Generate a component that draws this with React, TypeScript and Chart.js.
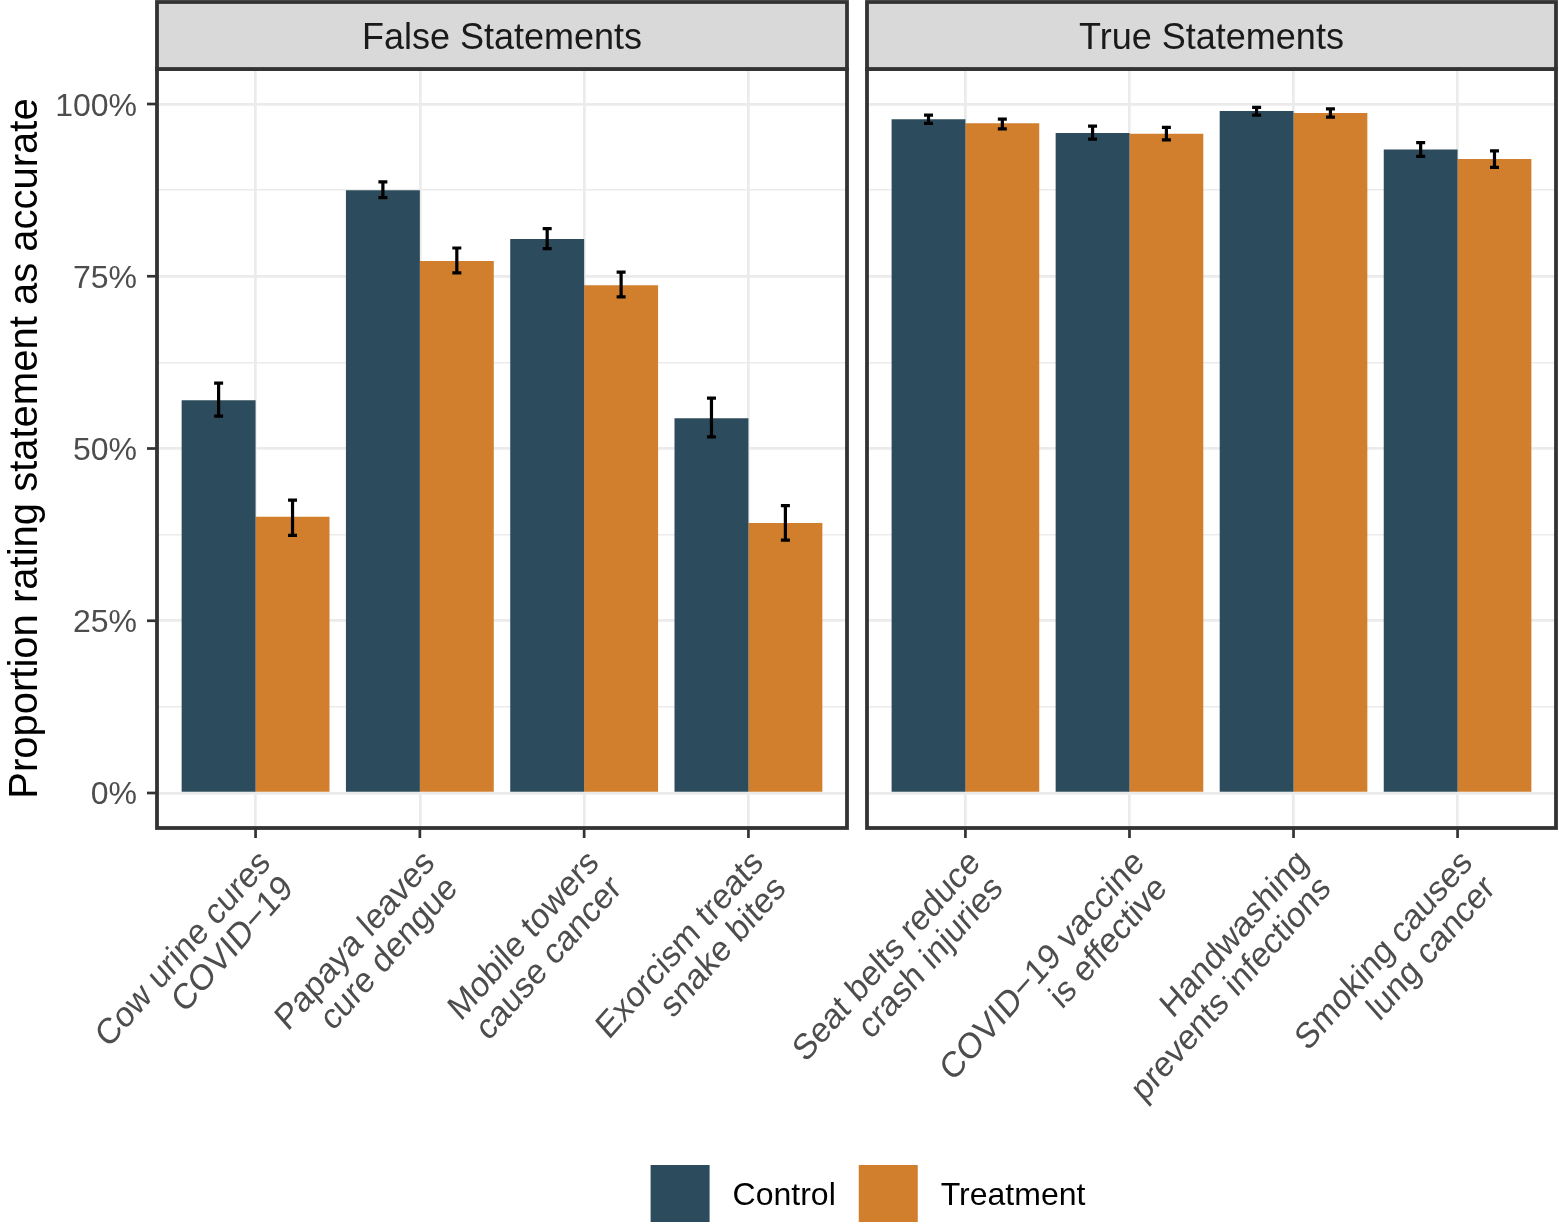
import React, { useEffect, useRef } from "react";
import { Chart, registerables } from "chart.js";

Chart.register(...registerables);

// ---------- DATA ----------
const facetTitles = ["False Statements", "True Statements"];
const seriesNames = ["Control", "Treatment"];
const falseCategories = [
  ["Cow urine cures", "COVID\u221219"],
  ["Papaya leaves", "cure dengue"],
  ["Mobile towers", "cause cancer"],
  ["Exorcism treats", "snake bites"],
];
const trueCategories = [
  ["Seat belts reduce", "crash injuries"],
  ["COVID\u221219 vaccine", "is effective"],
  ["Handwashing", "prevents infections"],
  ["Smoking causes", "lung cancer"],
];
const falseControl = [57.0, 87.5, 80.4, 54.4];
const falseControlLow = [54.7, 86.4, 79.0, 51.7];
const falseControlHigh = [59.5, 88.7, 81.9, 57.3];
const falseTreatment = [40.1, 77.2, 73.7, 39.2];
const falseTreatmentLow = [37.4, 75.5, 72.0, 36.7];
const falseTreatmentHigh = [42.5, 79.1, 75.6, 41.7];
const trueControl = [97.8, 95.8, 99.0, 93.4];
const trueControlLow = [97.2, 94.9, 98.4, 92.4];
const trueControlHigh = [98.4, 96.8, 99.5, 94.4];
const trueTreatment = [97.2, 95.7, 98.7, 92.0];
const trueTreatmentLow = [96.4, 94.8, 98.1, 90.8];
const trueTreatmentHigh = [97.8, 96.6, 99.3, 93.2];
const yTickValues = [0, 25, 50, 75, 100];
const yMinorValues = [12.5, 37.5, 62.5, 87.5];
const yAxisTitle = "Proportion rating statement as accurate";

// ---------- STYLE ----------
const FONT = '"Liberation Sans", Arial, Helvetica, sans-serif';
const W = 1559;
const H = 1227;
const COLORS = ["#2C4B5D", "#D17F2D"];
const DARK = "#333333";
const GRID = "#EBEBEB";
const PANEL_TOP = 69;
const PANEL_BOTTOM = 828;
const STRIP_TOP = 2;
const LABEL_STRETCH = 1.13;

type PanelCfg = {
  title: string;
  categories: string[][];
  lows: number[][];
  highs: number[][];
  showY: boolean;
  showLegend: boolean;
};

function makePlugin(cfg: PanelCfg) {
  return {
    id: "facetPanel",
    afterDatasetsDraw(chart: any) {
      const ctx = chart.ctx;
      const ys = chart.scales.y;
      ctx.save();
      ctx.strokeStyle = "#000000";
      ctx.lineWidth = 3.2;
      ctx.lineCap = "butt";
      cfg.lows.forEach((lowArr, di) => {
        const meta = chart.getDatasetMeta(di);
        meta.data.forEach((bar: any, i: number) => {
          const x = bar.x;
          const yl = ys.getPixelForValue(lowArr[i]);
          const yh = ys.getPixelForValue(cfg.highs[di][i]);
          ctx.beginPath();
          ctx.moveTo(x, yl);
          ctx.lineTo(x, yh);
          ctx.moveTo(x - 4.5, yl);
          ctx.lineTo(x + 4.5, yl);
          ctx.moveTo(x - 4.5, yh);
          ctx.lineTo(x + 4.5, yh);
          ctx.stroke();
        });
      });
      ctx.restore();
    },
    afterDraw(chart: any) {
      const ctx = chart.ctx;
      const a = chart.chartArea;
      const xs = chart.scales.x;
      const ys = chart.scales.y;
      ctx.save();
      // panel border
      ctx.strokeStyle = DARK;
      ctx.lineWidth = 3.8;
      ctx.strokeRect(a.left, a.top, a.right - a.left, a.bottom - a.top);
      // strip
      ctx.fillStyle = "#D9D9D9";
      ctx.fillRect(a.left, STRIP_TOP, a.right - a.left, a.top - STRIP_TOP);
      ctx.strokeRect(a.left, STRIP_TOP, a.right - a.left, a.top - STRIP_TOP);
      ctx.fillStyle = "#1A1A1A";
      ctx.font = `36px ${FONT}`;
      ctx.textAlign = "center";
      ctx.textBaseline = "alphabetic";
      ctx.fillText(cfg.title, (a.left + a.right) / 2, (STRIP_TOP + a.top) / 2 + 13);

      // x ticks + labels
      ctx.lineWidth = 2.7;
      ctx.strokeStyle = DARK;
      ctx.fillStyle = "#4D4D4D";
      ctx.font = `32px ${FONT}`;
      cfg.categories.forEach((lines, i) => {
        const x = xs.getPixelForValue(i);
        ctx.beginPath();
        ctx.moveTo(x, a.bottom);
        ctx.lineTo(x, a.bottom + 10);
        ctx.stroke();
        ctx.save();
        ctx.translate(x, a.bottom + 18);
        ctx.scale(1, LABEL_STRETCH);
        ctx.rotate(-Math.PI / 4);
        ctx.textAlign = "right";
        ctx.textBaseline = "alphabetic";
        lines.forEach((ln, li) => {
          ctx.fillText(ln, 0, 23 + li * 32);
        });
        ctx.restore();
      });

      if (cfg.showY) {
        ctx.textAlign = "right";
        ctx.textBaseline = "alphabetic";
        yTickValues.forEach((v) => {
          const y = ys.getPixelForValue(v);
          ctx.beginPath();
          ctx.moveTo(a.left - 10, y);
          ctx.lineTo(a.left, y);
          ctx.stroke();
          ctx.fillText(`${v}%`, a.left - 20, y + 11.5);
        });
        ctx.save();
        ctx.fillStyle = "#000000";
        ctx.font = `40px ${FONT}`;
        ctx.translate(37, (a.top + a.bottom) / 2);
        ctx.rotate(-Math.PI / 2);
        ctx.textAlign = "center";
        ctx.fillText(yAxisTitle, 0, 0);
        ctx.restore();
      }

      if (cfg.showLegend) {
        ctx.font = `32px ${FONT}`;
        ctx.textAlign = "left";
        ctx.textBaseline = "alphabetic";
        const keyW = 59;
        const keyH = 57;
        const gap = 23;
        const widths = seriesNames.map((s) => ctx.measureText(s).width);
        const total = widths.reduce((s, w) => s + w, 0) + seriesNames.length * (keyW + gap) + (seriesNames.length - 1) * gap;
        let x = 868 - total / 2;
        const top = 1165;
        seriesNames.forEach((s, i) => {
          ctx.fillStyle = COLORS[i];
          ctx.fillRect(x, top, keyW, keyH);
          x += keyW + gap;
          ctx.fillStyle = "#000000";
          ctx.fillText(s, x, top + keyH / 2 + 11.5);
          x += widths[i] + gap;
        });
      }
      ctx.restore();
    },
  };
}

function makeConfig(
  cfg: PanelCfg,
  control: number[],
  treatment: number[],
  padLeft: number,
  padRight: number
): any {
  return {
    type: "bar",
    data: {
      labels: cfg.categories.map((c) => c.join(" ")),
      datasets: [
        { label: seriesNames[0], data: control, backgroundColor: COLORS[0], borderWidth: 0 },
        { label: seriesNames[1], data: treatment, backgroundColor: COLORS[1], borderWidth: 0 },
      ],
    },
    options: {
      responsive: false,
      animation: false,
      events: [],
      layout: {
        padding: { left: padLeft, right: padRight, top: PANEL_TOP, bottom: H - PANEL_BOTTOM },
      },
      plugins: { legend: { display: false }, tooltip: { enabled: false }, title: { display: false } },
      datasets: { bar: { categoryPercentage: 0.9, barPercentage: 1.0 } },
      scales: {
        x: {
          type: "category",
          offset: false,
          grid: { offset: false, color: GRID, lineWidth: 2.7, drawTicks: false },
          border: { display: false },
          ticks: { display: false },
          afterBuildTicks: (scale: any) => {
            const n = cfg.categories.length;
            scale._startValue = -0.6;
            scale._valueRange = n - 1 + 1.2;
          },
        },
        y: {
          type: "linear",
          min: -5.08,
          max: 105.08,
          grid: {
            color: GRID,
            drawTicks: false,
            lineWidth: (c: any) => (c.tick && c.tick.value % 25 === 0 ? 2.7 : 1.4),
          },
          border: { display: false },
          ticks: { display: false },
          afterBuildTicks: (scale: any) => {
            scale.ticks = [...yTickValues, ...yMinorValues]
              .sort((p, q) => p - q)
              .map((v) => ({ value: v }));
          },
        },
      },
    },
    plugins: [makePlugin(cfg)],
  };
}

export default function App() {
  const refA = useRef<HTMLCanvasElement | null>(null);
  const refB = useRef<HTMLCanvasElement | null>(null);

  useEffect(() => {
    const cfgA: PanelCfg = {
      title: facetTitles[0],
      categories: falseCategories,
      lows: [falseControlLow, falseTreatmentLow],
      highs: [falseControlHigh, falseTreatmentHigh],
      showY: true,
      showLegend: true,
    };
    const cfgB: PanelCfg = {
      title: facetTitles[1],
      categories: trueCategories,
      lows: [trueControlLow, trueTreatmentLow],
      highs: [trueControlHigh, trueTreatmentHigh],
      showY: false,
      showLegend: false,
    };
    const chartA = new Chart(refA.current as HTMLCanvasElement, makeConfig(cfgA, falseControl, falseTreatment, 157, W - 847));
    const chartB = new Chart(refB.current as HTMLCanvasElement, makeConfig(cfgB, trueControl, trueTreatment, 867, W - 1556));
    return () => {
      chartA.destroy();
      chartB.destroy();
    };
  }, []);

  const canvasStyle: React.CSSProperties = { position: "absolute", left: 0, top: 0, width: W, height: H };
  return (
    <div style={{ position: "fixed", left: 0, top: 0, width: W, height: H, background: "#FFFFFF", overflow: "hidden" }}>
      <canvas ref={refA} width={W} height={H} style={canvasStyle} />
      <canvas ref={refB} width={W} height={H} style={canvasStyle} />
    </div>
  );
}
